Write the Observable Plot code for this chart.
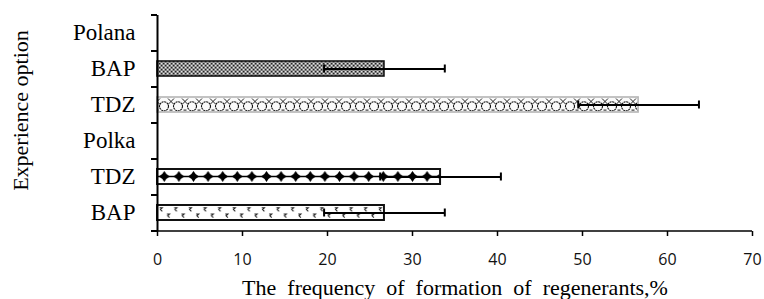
<!DOCTYPE html>
<html><head><meta charset="utf-8">
<script src="https://cdn.jsdelivr.net/npm/d3@7"></script>
<script src="https://cdn.jsdelivr.net/npm/@observablehq/plot@0.6"></script>
<style>body{margin:0;background:#fff}</style>
</head><body><div id="chart"></div>
<script>
// ---- data ----
const rowKeys   = ["Polana", "Polana|BAP", "Polana|TDZ", "Polka", "Polka|TDZ", "Polka|BAP"];
const rowLabels = ["Polana", "BAP", "TDZ", "Polka", "TDZ", "BAP"];
const barKeys   = ["Polana|BAP", "Polana|TDZ", "Polka|TDZ", "Polka|BAP"];
const barValues = [26.7, 56.6, 33.3, 26.7];
const barErrors = [7.1, 7.1, 7.1, 7.1];
const xTicks    = [0, 10, 20, 30, 40, 50, 60, 70];
const xLabel = "The  frequency  of  formation  of  regenerants,%";
const yLabel = "Experience option";

// ---- styles ----
const W = 764, H = 299, mTop = 15, mBottom = 68, mLeft = 157, mRight = 12;
const step = (H - mTop - mBottom) / rowKeys.length;
const barStyle = {
  "Polana|BAP": {pat: "patA", stroke: "#111", sw: 1.6},
  "Polana|TDZ": {pat: "patB", stroke: "#b5b5b5", sw: 1.6},
  "Polka|TDZ":  {pat: "patC", stroke: "#111", sw: 2},
  "Polka|BAP":  {pat: "patD", stroke: "#111", sw: 2}
};

const data = barKeys.map((k, i) => ({key: k, value: barValues[i], err: barErrors[i]}));
const labelOf = new Map(rowKeys.map((k, i) => [k, rowLabels[i]]));

const barMarks = data.map(d => Plot.barX([d], {
  x: "value", y: "key",
  fill: `url(#${barStyle[d.key].pat})`,
  stroke: barStyle[d.key].stroke, strokeWidth: barStyle[d.key].sw
}));

const svg = Plot.plot({
  width: W, height: H,
  marginTop: mTop, marginBottom: mBottom, marginLeft: mLeft, marginRight: mRight,
  style: {fontFamily: "'Liberation Serif', 'Times New Roman', serif", fontSize: "22px", color: "#000", background: "#fff"},
  x: {domain: [0, 70]},
  y: {domain: rowKeys, paddingInner: 0.58, paddingOuter: 0.29},
  marks: [
    ...barMarks,
    // error bars
    Plot.ruleY(data, {y: "key", x1: d => d.value - d.err, x2: d => d.value + d.err, stroke: "#000", strokeWidth: 2}),
    Plot.tickX(data, {y: "key", x: d => d.value - d.err, stroke: "#000", strokeWidth: 2, insetTop: 3.5, insetBottom: 3.5}),
    Plot.tickX(data, {y: "key", x: d => d.value + d.err, stroke: "#000", strokeWidth: 2, insetTop: 3.5, insetBottom: 3.5}),
    // y axis line and category boundary ticks
    Plot.ruleX([0], {stroke: "#000", strokeWidth: 2}),
    Plot.ruleY(rowKeys, {y: d => d, x1: 0, x2: 0, insetLeft: -6, dy: -step / 2, stroke: "#000", strokeWidth: 2}),
    Plot.ruleY([rowKeys[rowKeys.length - 1]], {y: d => d, x1: 0, x2: 0, insetLeft: -6, dy: step / 2, stroke: "#000", strokeWidth: 2}),
    // x axis line
    Plot.ruleY([rowKeys[rowKeys.length - 1]], {y: d => d, dy: step / 2, stroke: "#000", strokeWidth: 1.6}),
    Plot.axisX({ticks: xTicks, tickSize: 5, tickPadding: 17, strokeWidth: 1.5, label: null,
      fontFamily: "'Open Sans', sans-serif", fontSize: 16, fill: "#111"}),
    Plot.axisX({ticks: [], label: xLabel, labelAnchor: "center", labelOffset: 63, labelArrow: "none"}),
    Plot.axisY({tickSize: 0, tickPadding: 22, tickFormat: k => labelOf.get(k), label: null, fontSize: 23}),
    Plot.text([yLabel], {frameAnchor: "left", text: d => d, rotate: -90, dx: -137, dy: -13,
      textAnchor: "middle", lineAnchor: "middle", fontSize: 22, fill: "#000"})
  ]
});

// ---- patterns (aligned to bars through the scales) ----
const xs = svg.scale("x"), ys = svg.scale("y");
const bw = ys.bandwidth;
const x0 = xs.apply(0);
const defs = d3.select(svg).insert("defs", ":first-child");
function pattern(id, key, w) {
  return defs.append("pattern").attr("id", id).attr("patternUnits", "userSpaceOnUse")
    .attr("x", x0).attr("y", ys.apply(key)).attr("width", w).attr("height", bw);
}
// A: dark checker stipple
{
  const p = pattern("patA", "Polana|BAP", 4);
  p.append("rect").attr("width", 4).attr("height", bw).attr("fill", "#8c8c8c");
  for (let y = 0; y < bw; y += 2) {
    const off = (Math.round(y / 2) % 2) * 2;
    p.append("rect").attr("x", off).attr("y", y).attr("width", 1.2).attr("height", 1.2).attr("fill", "#222");
    p.append("rect").attr("x", (off + 2) % 4).attr("y", y).attr("width", 1.2).attr("height", 1.2).attr("fill", "#e6e6e6");
  }
}
// B: light chain of loops and crosses
{
  const w = 14;
  const p = pattern("patB", "Polana|TDZ", w);
  p.append("rect").attr("width", w).attr("height", bw).attr("fill", "#fafafa");
  const cy = bw * 0.62, r = bw * 0.3;
  p.append("circle").attr("cx", w / 2).attr("cy", cy).attr("r", r).attr("fill", "none")
    .attr("stroke", "#111").attr("stroke-width", 1.1).attr("stroke-dasharray", "2 0.6");
  for (const cx of [0, w]) {
    p.append("path").attr("d", `M${cx - 3},${bw * 0.1}L${cx + 3},${bw * 0.5}M${cx + 3},${bw * 0.1}L${cx - 3},${bw * 0.5}`)
      .attr("stroke", "#222").attr("stroke-width", 1).attr("fill", "none");
    p.append("path").attr("d", `M${cx - 1.5},${bw * 0.88}L${cx + 1.5},${bw * 0.88}`).attr("stroke", "#444").attr("stroke-width", 1.2);
  }
}
// C: black four-point stars on a line
{
  const w = 14.6;
  const p = pattern("patC", "Polka|TDZ", w);
  p.append("rect").attr("width", w).attr("height", bw).attr("fill", "#fff");
  const cy = bw / 2, cx = w / 2, rx = 5.5, ry = 5.5, k = 1.8;
  p.append("path").attr("d", `M0,${cy}L${w},${cy}`).attr("stroke", "#000").attr("stroke-width", 1.5);
  p.append("path").attr("d",
    `M${cx},${cy - ry}Q${cx + k},${cy - k} ${cx + rx},${cy}Q${cx + k},${cy + k} ${cx},${cy + ry}` +
    `Q${cx - k},${cy + k} ${cx - rx},${cy}Q${cx - k},${cy - k} ${cx},${cy - ry}Z`).attr("fill", "#000");
}
// D: scattered small marks
{
  const w = 14.6;
  const p = pattern("patD", "Polka|BAP", w);
  p.append("rect").attr("width", w).attr("height", bw).attr("fill", "#fff");
  const mark = (x, y) => p.append("path")
    .attr("d", `M${x - 1.4},${y - 1.8}L${x + 1.2},${y - 1.8}L${x - 0.6},${y}L${x + 1.2},${y + 1.8}`)
    .attr("stroke", "#222").attr("stroke-width", 1.1).attr("fill", "none");
  mark(4, bw * 0.3); mark(11.3, bw * 0.72);
}

document.getElementById("chart").append(svg);
</script></body></html>
